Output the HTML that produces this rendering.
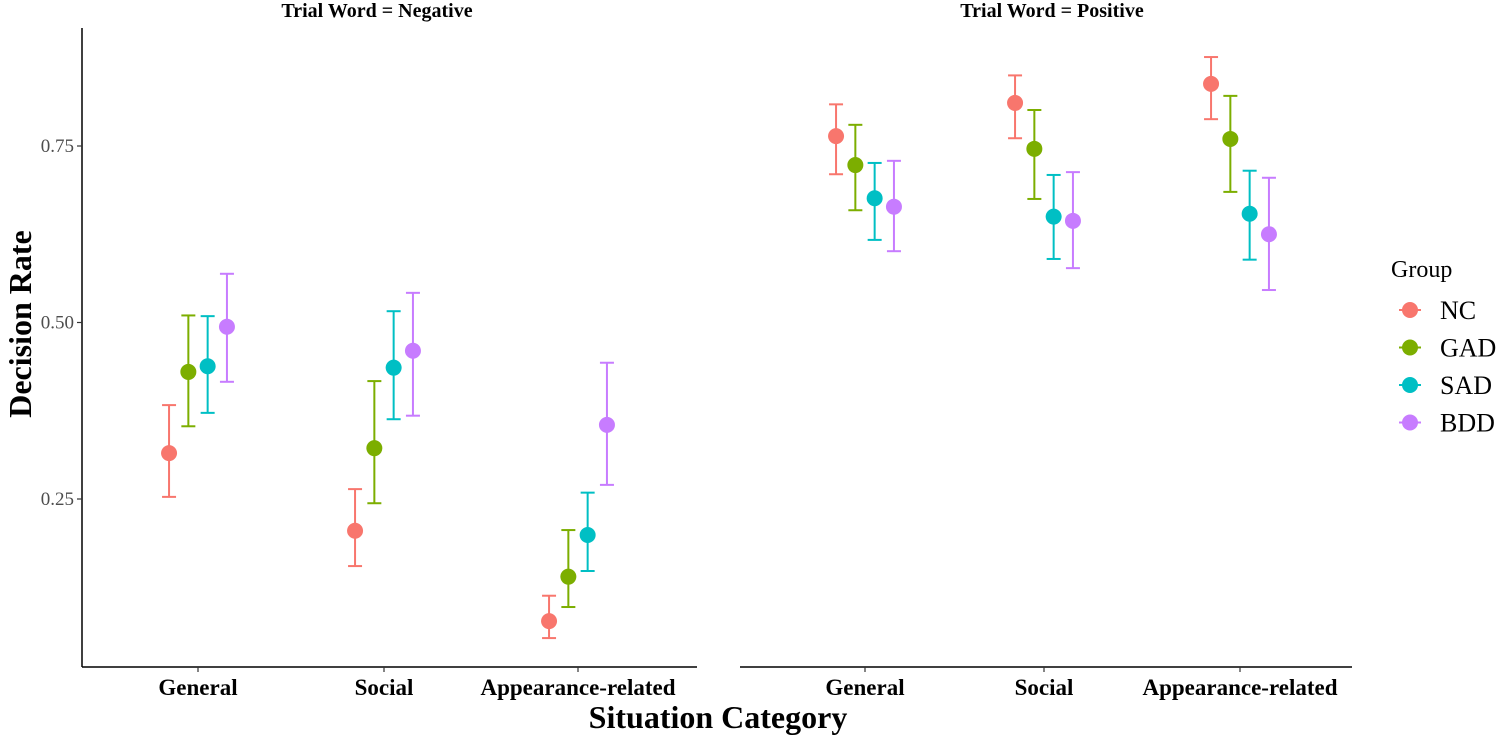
<!DOCTYPE html>
<html><head><meta charset="utf-8"><style>
body{margin:0;background:#fff;}
svg{display:block;font-family:"Liberation Serif",serif;}
</style></head><body>
<svg id="chart" width="1498" height="740">
<g id="axes"></g><g id="marks"></g>
<text x="377" y="17" text-anchor="middle" font-weight="bold" font-size="20">Trial Word = Negative</text>
<text x="1052" y="17" text-anchor="middle" font-weight="bold" font-size="20">Trial Word = Positive</text>
<text transform="translate(31,324) rotate(-90)" text-anchor="middle" font-weight="bold" font-size="32">Decision Rate</text>
<text x="718" y="728" text-anchor="middle" font-weight="bold" font-size="32">Situation Category</text>
<g id="legend">
<text x="1391" y="277" font-size="24">Group</text>
</g>
</svg>
<script>
const categories=["General","Social","Appearance-related"];
const groups=["NC","GAD","SAD","BDD"];
const colors=["#F8766D","#7CAE00","#00BFC4","#C77CFF"];
const yTicks=[0.25,0.5,0.75];
// [panel][category][group]
const negMean=[[0.315,0.43,0.438,0.494],[0.205,0.322,0.436,0.46],[0.077,0.14,0.199,0.355]];
const negLo=[[0.253,0.353,0.372,0.416],[0.155,0.244,0.363,0.368],[0.053,0.097,0.148,0.27]];
const negHi=[[0.383,0.51,0.509,0.569],[0.264,0.417,0.516,0.542],[0.113,0.206,0.259,0.443]];
const posMean=[[0.764,0.723,0.676,0.664],[0.811,0.746,0.65,0.644],[0.838,0.76,0.654,0.625]];
const posLo=[[0.71,0.659,0.617,0.601],[0.761,0.675,0.59,0.577],[0.788,0.685,0.589,0.546]];
const posHi=[[0.809,0.78,0.726,0.729],[0.85,0.801,0.709,0.713],[0.876,0.821,0.715,0.705]];

const NS="http://www.w3.org/2000/svg";
function mk(tag,attrs,parent,text){const e=document.createElementNS(NS,tag);for(const k in attrs)e.setAttribute(k,attrs[k]);if(text!==undefined)e.textContent=text;parent.appendChild(e);return e;}
function y(v){return 146+(0.75-v)*706;}
const panels=[{x0:82,x1:697,centers:[198,384,578],mean:negMean,lo:negLo,hi:negHi,name:"negative"},
{x0:740,x1:1352,centers:[865,1044,1240],mean:posMean,lo:posLo,hi:posHi,name:"positive"}];
function xPos(p,c,g){return panels[p].centers[c]+(g-1.5)*19.3;}
const axes=document.getElementById('axes'),marks=document.getElementById('marks');
let l=mk('line',{x1:82,y1:28,x2:82,y2:667,stroke:'#000','stroke-width':1.5},axes);


yTicks.forEach(t=>{
 const tk=mk('line',{x1:77,x2:82,y1:y(t),y2:y(t),stroke:'#333','stroke-width':1.2},axes);
 
 
 const tl=mk('text',{x:74,y:y(t)+6,'text-anchor':'end','font-size':19,fill:'#4d4d4d'},axes,t.toFixed(2));
 
 
});
panels.forEach((P,p)=>{
 const ax=mk('line',{x1:P.x0,x2:P.x1,y1:667,y2:667,stroke:'#000','stroke-width':1.5},axes);
 
 
 categories.forEach((c,ci)=>{
  const cx=P.centers[ci];
  const tk=mk('line',{x1:cx,x2:cx,y1:667,y2:672,stroke:'#333','stroke-width':1.2},axes);
  
  
  const tl=mk('text',{x:cx,y:695,'text-anchor':'middle','font-size':23,'font-weight':'bold'},axes,c);
  
  
  groups.forEach((g,gi)=>{
   const x=xPos(p,ci,gi),col=colors[gi];
   const eg=mk('g',{stroke:col,'stroke-width':2,fill:'none'},marks);
   
   
   mk('line',{x1:x,x2:x,y1:y(P.hi[ci][gi]),y2:y(P.lo[ci][gi])},eg);
   mk('line',{x1:x-7,x2:x+7,y1:y(P.hi[ci][gi]),y2:y(P.hi[ci][gi])},eg);
   mk('line',{x1:x-7,x2:x+7,y1:y(P.lo[ci][gi]),y2:y(P.lo[ci][gi])},eg);
   const pt=mk('circle',{cx:x,cy:y(P.mean[ci][gi]),r:8,fill:col},marks);
   
   
  });
 });
});
const lg=document.getElementById('legend');
groups.forEach((g,i)=>{
 const yy=310+i*37.5;
 const c=mk('circle',{cx:1410,cy:yy,r:8,fill:colors[i]},lg);
 
 
 mk('line',{x1:1399,x2:1421,y1:yy,y2:yy,stroke:colors[i],'stroke-width':2},lg);
 const t=mk('text',{x:1440,y:yy+9,'font-size':26},lg,g);
 
 
});
</script>
</body></html>
